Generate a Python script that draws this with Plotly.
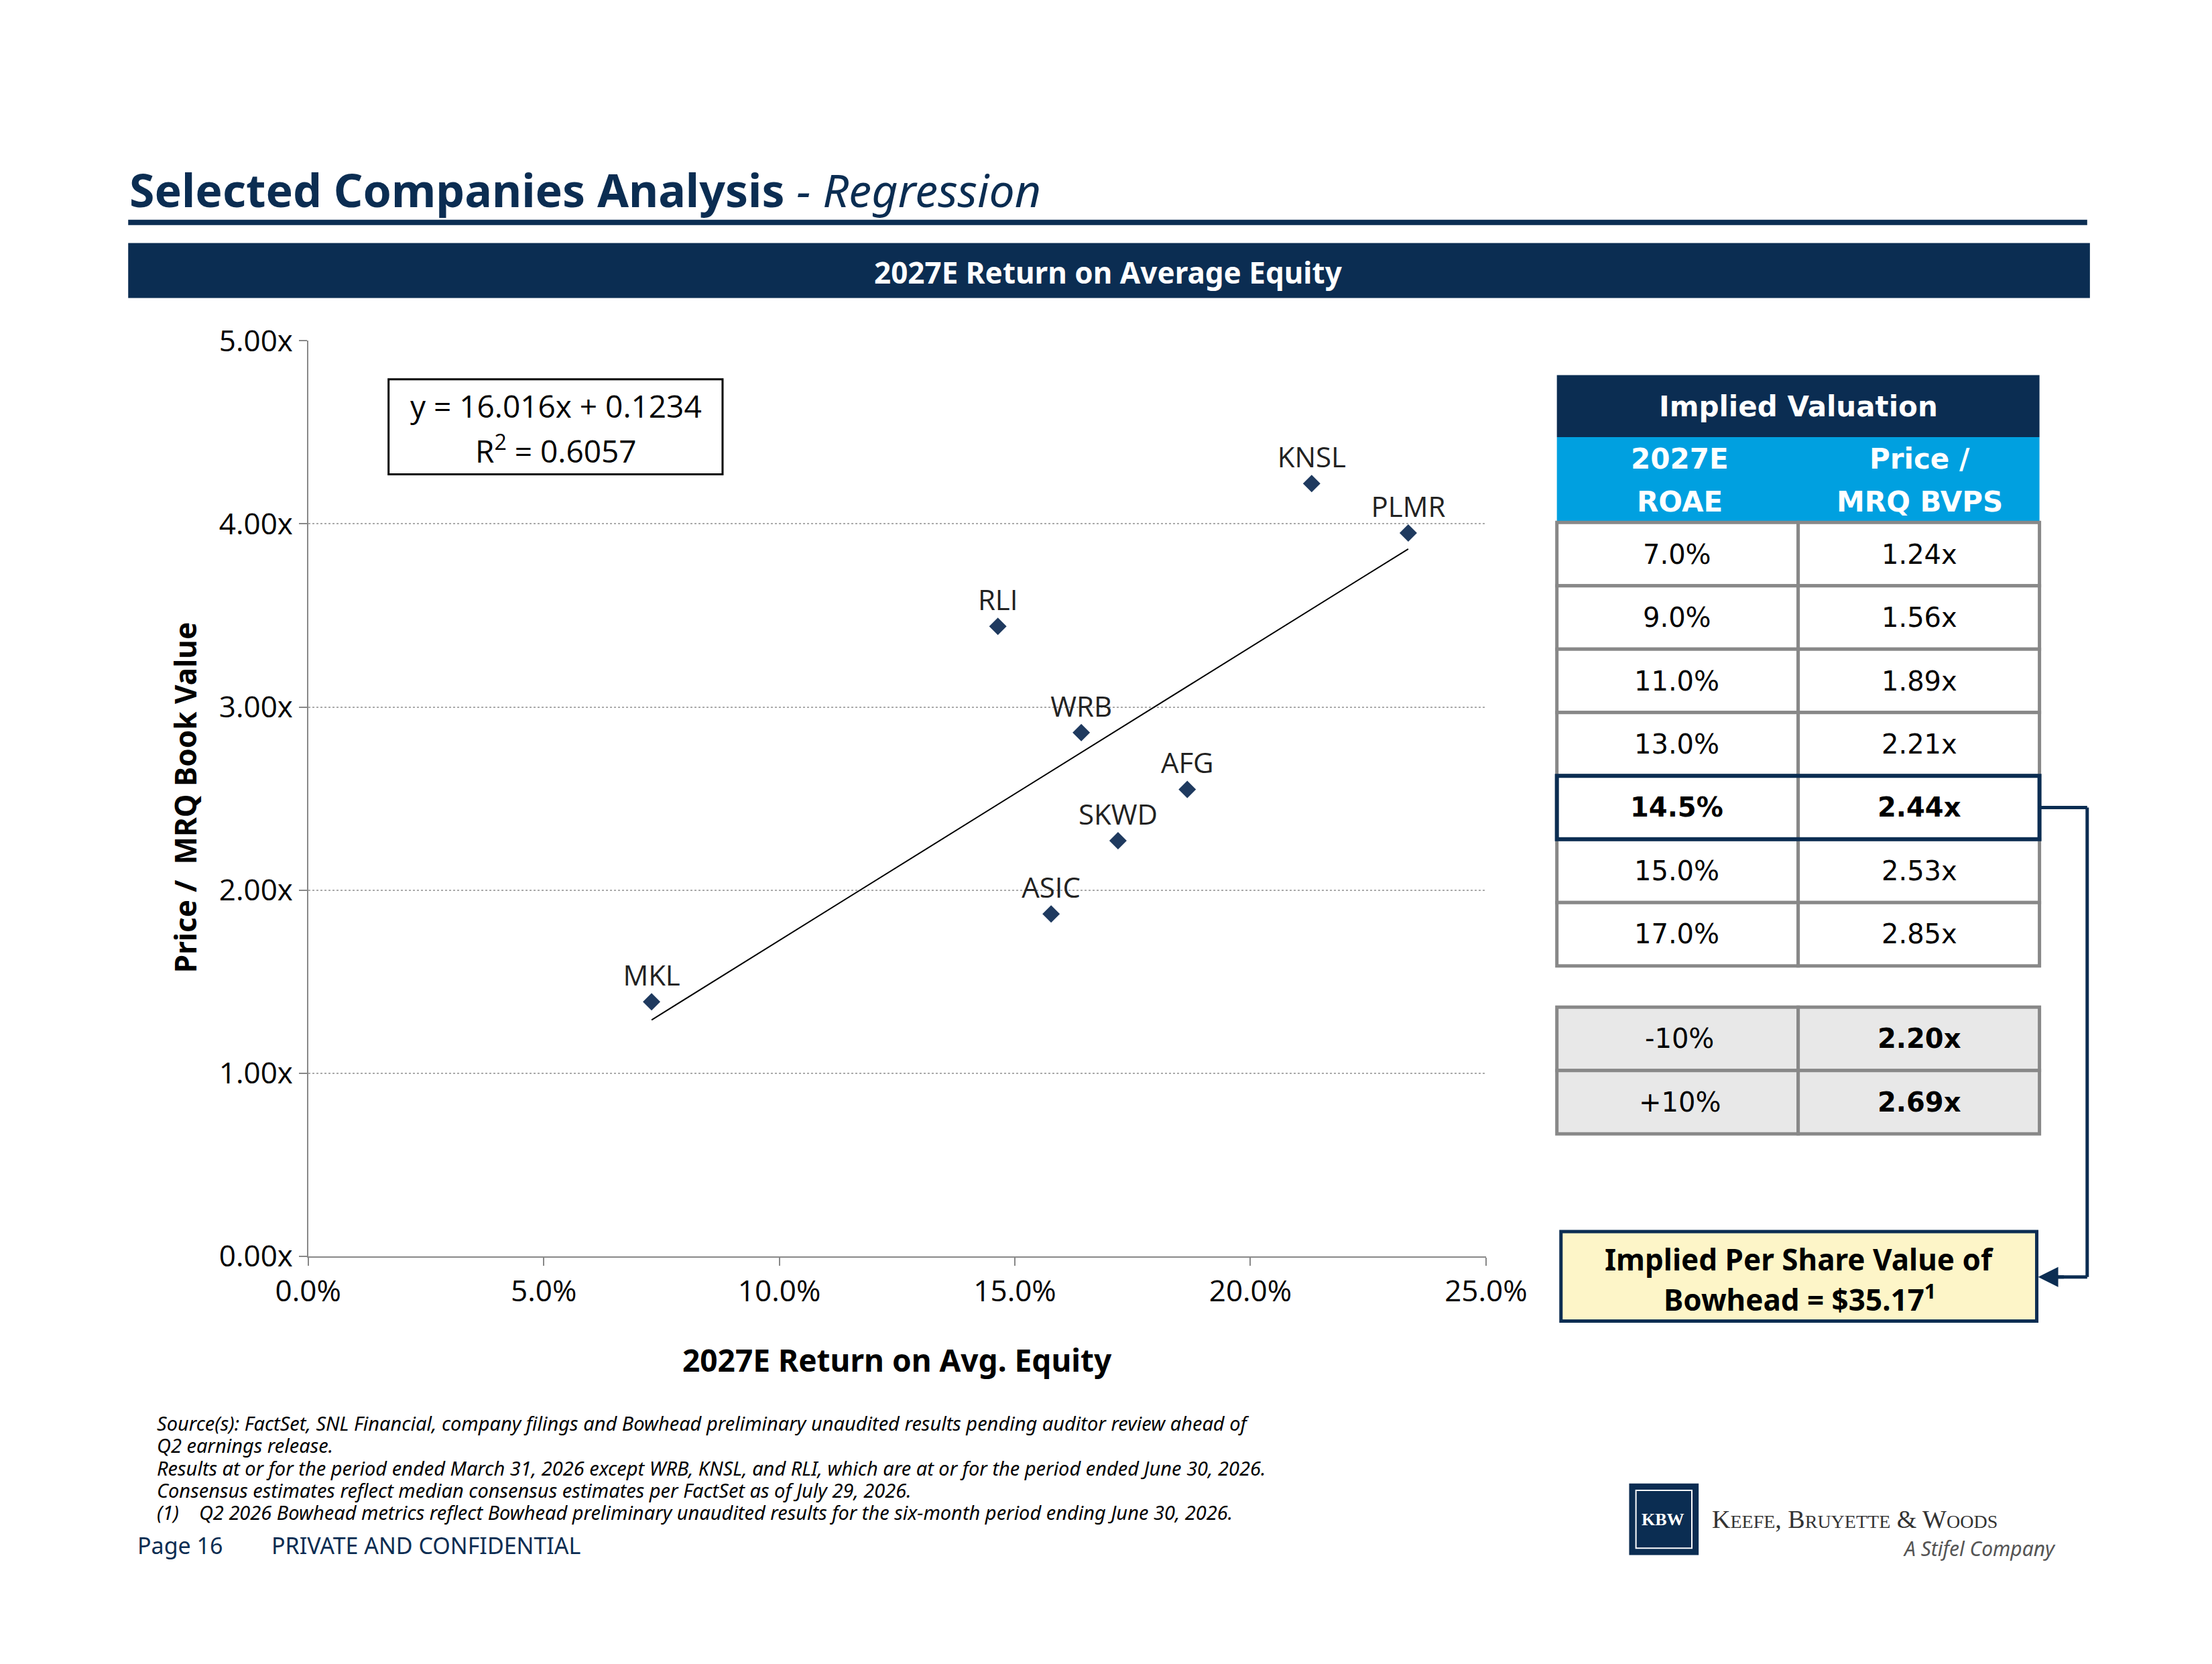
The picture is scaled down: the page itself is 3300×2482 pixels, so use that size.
import plotly.graph_objects as go

companies = ["MKL", "RLI", "WRB", "AFG", "SKWD", "ASIC", "KNSL", "PLMR"]
roae = [7.29, 14.64, 16.41, 18.66, 17.19, 15.77, 21.30, 23.35]
pbv = [1.39, 3.44, 2.86, 2.55, 2.27, 1.87, 4.22, 3.95]
slope, intercept = 16.016, 0.1234
x_ticks = [0, 5, 10, 15, 20, 25]
x_tick_text = ["0.0%", "5.0%", "10.0%", "15.0%", "20.0%", "25.0%"]
y_ticks = [0, 1, 2, 3, 4, 5]
y_tick_text = ["0.00x", "1.00x", "2.00x", "3.00x", "4.00x", "5.00x"]
tbl_roae = ["7.0%", "9.0%", "11.0%", "13.0%", "14.5%", "15.0%", "17.0%"]
tbl_pbv = ["1.24x", "1.56x", "1.89x", "2.21x", "2.44x", "2.53x", "2.85x"]
sens_lbl = ["-10%", "+10%"]
sens_val = ["2.20x", "2.69x"]

W, H = 3300, 2482
S = W / 1568.0
NAVY = "#0b2d52"
PT = "#1f3a5f"
BLUE = "#00a0e0"

def px(x): return x * S / W
def py(y): return 1 - y * S / H

fig = go.Figure()
trend_x = [min(roae), max(roae)]
fig.add_trace(go.Scatter(x=trend_x, y=[slope * v / 100 + intercept for v in trend_x],
                         mode="lines", line=dict(color="black", width=2), hoverinfo="skip"))
fig.add_trace(go.Scatter(x=roae, y=pbv, mode="markers+text", text=companies,
                         textposition="top center",
                         textfont=dict(family="Open Sans", size=42, color="#222"),
                         marker=dict(symbol="diamond", size=20, color=PT)))

shapes, ann = [], []

def rect(x0, y0, x1, y1, fill, line="rgba(0,0,0,0)", lw=0):
    shapes.append(dict(type="rect", xref="paper", yref="paper", x0=px(x0), x1=px(x1),
                       y0=py(y1), y1=py(y0), fillcolor=fill, line=dict(color=line, width=lw)))

def line(x0, y0, x1, y1, color, w):
    shapes.append(dict(type="line", xref="paper", yref="paper", x0=px(x0), x1=px(x1),
                       y0=py(y0), y1=py(y1), line=dict(color=color, width=w)))

def text(x, y, t, size, color="black", bold=False, family="DejaVu Sans", xanchor="center", italic=False):
    if bold: t = "<b>" + t + "</b>"
    if italic: t = "<i>" + t + "</i>"
    ann.append(dict(xref="paper", yref="paper", x=px(x), y=py(y), text=t, showarrow=False,
                    xanchor=xanchor, yanchor="middle", align="left" if xanchor == "left" else "center",
                    font=dict(size=size, color=color, family=family)))

# title
text(66, 118, "<b>Selected Companies Analysis</b> <i>- Regression</i>",
     68, NAVY, family="Noto Sans", xanchor="left")
line(66, 142, 1503, 142, NAVY, 8)
rect(66, 157, 1505, 197, NAVY)
text(785, 178, "2027E Return on Average Equity", 44, "white", True, "Noto Sans")

# equation box
rect(257, 256, 502, 325, "white", "black", 3)
text(380, 275, "y = 16.016x + 0.1234", 46, "black", family="Open Sans")
text(380, 307, "R<sup>2</sup> = 0.6057", 46, "black", family="Open Sans")

# axis titles
ann.append(dict(xref="paper", yref="paper", x=px(92), y=py(560), text="<b>Price /  MRQ Book Value</b>",
                showarrow=False, textangle=-90, font=dict(size=44, family="Noto Sans", color="black")))
text(630, 968, "2027E Return on Avg. Equity", 46, "black", True, "Noto Sans")

# table
x0, xm, x1 = 1114, 1291, 1468
rect(x0, 253, x1, 298, NAVY)
text((x0 + x1) / 2, 276, "Implied Valuation", 42, "white", True)
rect(x0, 298, x1, 360, BLUE)
line(x0, 360, x1, 360, "black", 4)
text(1204, 314, "2027E", 42, "white", True)
text(1204, 345, "ROAE", 42, "white", True)
text(1380, 314, "Price /", 42, "white", True)
text(1380, 345, "MRQ BVPS", 42, "white", True)
for i, (a, b) in enumerate(zip(tbl_roae, tbl_pbv)):
    t = 360 + i * 46
    rect(x0, t, xm, t + 46, "white", "#888", 5)
    rect(xm, t, x1, t + 46, "white", "#888", 5)
    bold = a == "14.5%"
    text(1202, t + 23, a, 40, "black", bold)
    text(1380, t + 23, b, 40, "black", bold)
rect(x0, 544, x1, 590, "rgba(0,0,0,0)", NAVY, 6)
for i, (a, b) in enumerate(zip(sens_lbl, sens_val)):
    t = 712 + i * 46
    rect(x0, t, xm, t + 46, "#e8e8e8", "#888", 5)
    rect(xm, t, x1, t + 46, "#e8e8e8", "#888", 5)
    text(1204, t + 23, a, 40, "black")
    text(1380, t + 23, b, 40, "black", True)

# connector and value box
line(1468, 567, 1503, 567, NAVY, 5)
line(1503, 567, 1503, 908, NAVY, 5)
line(1503, 908, 1478, 908, NAVY, 5)
ann.append(dict(xref="paper", yref="paper", axref="pixel", ayref="pixel", x=px(1467), y=py(908),
                ax=40, ay=0, text="", showarrow=True, arrowhead=2, arrowsize=1.2,
                arrowwidth=5, arrowcolor=NAVY))
rect(1117, 875, 1466, 940, "#fdf5c8", NAVY, 5)
text(1292, 895, "Implied Per Share Value of", 44, "black", True, "Noto Sans")
text(1292, 923, "Bowhead = $35.17<sup>1</sup>", 44, "black", True, "Noto Sans")

# footnotes
notes = ["Source(s): FactSet, SNL Financial, company filings and Bowhead preliminary unaudited results pending auditor review ahead of",
         "Q2 earnings release.",
         "Results at or for the period ended March 31, 2026 except WRB, KNSL, and RLI, which are at or for the period ended June 30, 2026.",
         "Consensus estimates reflect median consensus estimates per FactSet as of July 29, 2026.",
         "(1)    Q2 2026 Bowhead metrics reflect Bowhead preliminary unaudited results for the six-month period ending June 30, 2026."]
for i, n in enumerate(notes):
    text(86, 1014 + i * 16.2, n, 29, "black", family="Noto Sans", xanchor="left", italic=True)
text(72, 1103, "Page 16", 34, "#0b2d52", family="Noto Sans", xanchor="left")
text(170, 1103, "PRIVATE AND CONFIDENTIAL", 34, "#0b2d52", family="Noto Sans", xanchor="left")

# logo
rect(1167, 1058, 1218, 1110, NAVY)
rect(1172, 1063, 1213, 1105, "rgba(0,0,0,0)", "white", 2)
text(1192, 1084, "KBW", 26, "white", True, "Liberation Serif")
text(1227, 1084, "K<span style='font-size:28px'>EEFE</span>, B<span style='font-size:28px'>RUYETTE</span> &amp; W<span style='font-size:28px'>OODS</span>",
     38, "#333", family="Liberation Serif", xanchor="left")
ann.append(dict(xref="paper", yref="paper", x=px(1481), y=py(1105), text="<i>A Stifel Company</i>",
                showarrow=False, xanchor="right", yanchor="middle",
                font=dict(size=30, color="#555", family="Noto Sans")))

fig.update_layout(
    width=W, height=H, margin=dict(l=0, r=0, t=0, b=0), showlegend=False,
    paper_bgcolor="white", plot_bgcolor="white", shapes=shapes, annotations=ann,
    xaxis=dict(domain=[px(198), px(1062)], range=[0, 25], tickvals=x_ticks, ticktext=x_tick_text,
               showgrid=False, zeroline=False, showline=True, linecolor="#888", linewidth=2,
               ticks="outside", ticklen=12, tickcolor="#888", tickwidth=2,
               tickfont=dict(size=44, family="Open Sans", color="black")),
    yaxis=dict(domain=[py(893), py(228)], range=[0, 5], tickvals=y_ticks, ticktext=y_tick_text,
               showgrid=True, gridcolor="#aaa", griddash="dot", gridwidth=2, zeroline=False,
               showline=True, linecolor="#888", linewidth=2, ticks="outside", ticklen=12,
               tickcolor="#888", tickwidth=2,
               tickfont=dict(size=44, family="Open Sans", color="black")),
)
fig.write_html("out.html")
